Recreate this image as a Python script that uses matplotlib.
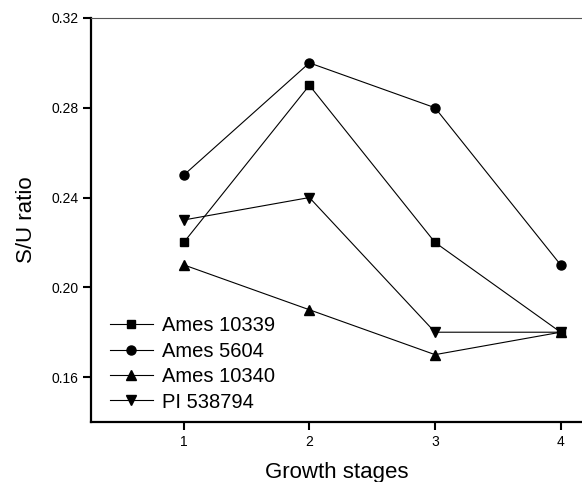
import matplotlib
matplotlib.use("Agg")
import matplotlib.pyplot as plt

plt.rcParams['font.family'] = ['Liberation Sans', 'DejaVu Sans']

# growth stages and S/U ratio per line
stages = [1, 2, 3, 4]
ames_10339 = [0.22, 0.29, 0.22, 0.18]
ames_5604 = [0.25, 0.30, 0.28, 0.21]
ames_10340 = [0.21, 0.19, 0.17, 0.18]
pi_538794 = [0.23, 0.24, 0.18, 0.18]

series = [
    ("Ames 10339", ames_10339, "s", 6),
    ("Ames 5604", ames_5604, "o", 6.5),
    ("Ames 10340", ames_10340, "^", 7),
    ("PI 538794", pi_538794, "v", 7),
]

fig = plt.figure(figsize=(5.82, 4.82), dpi=100)
ax = fig.add_axes([0.156, 0.1245, 0.844, 0.8382])

for name, vals, mk, ms in series:
    ax.plot(stages, vals, color="black", lw=0.8, marker=mk, markersize=ms, label=name)

ax.set_xlim(0.26, 4.17)
ax.set_ylim(0.14, 0.32)
ax.set_xticks(stages)
ax.set_yticks([0.16, 0.20, 0.24, 0.28, 0.32])
ax.set_yticklabels(["0.16", "0.20", "0.24", "0.28", "0.32"])

ax.spines['right'].set_visible(False)
ax.spines['top'].set_color('#555555')
ax.spines['top'].set_linewidth(0.8)
ax.spines['left'].set_linewidth(1.6)
ax.spines['bottom'].set_linewidth(1.6)
ax.tick_params(axis='both', direction='out', length=6, width=1.5, labelsize=10)
ax.tick_params(axis='y', pad=3)

ax.set_xlabel("Growth stages", fontsize=16, labelpad=9)
ax.set_ylabel("S/U ratio", fontsize=16, labelpad=10)

ax.legend(loc="lower left", bbox_to_anchor=(0.022, 0.006), frameon=False,
          fontsize=14.5, handlelength=2.15, handletextpad=0.45, labelspacing=0.32,
          borderaxespad=0)

fig.savefig("out.png", dpi=100)
